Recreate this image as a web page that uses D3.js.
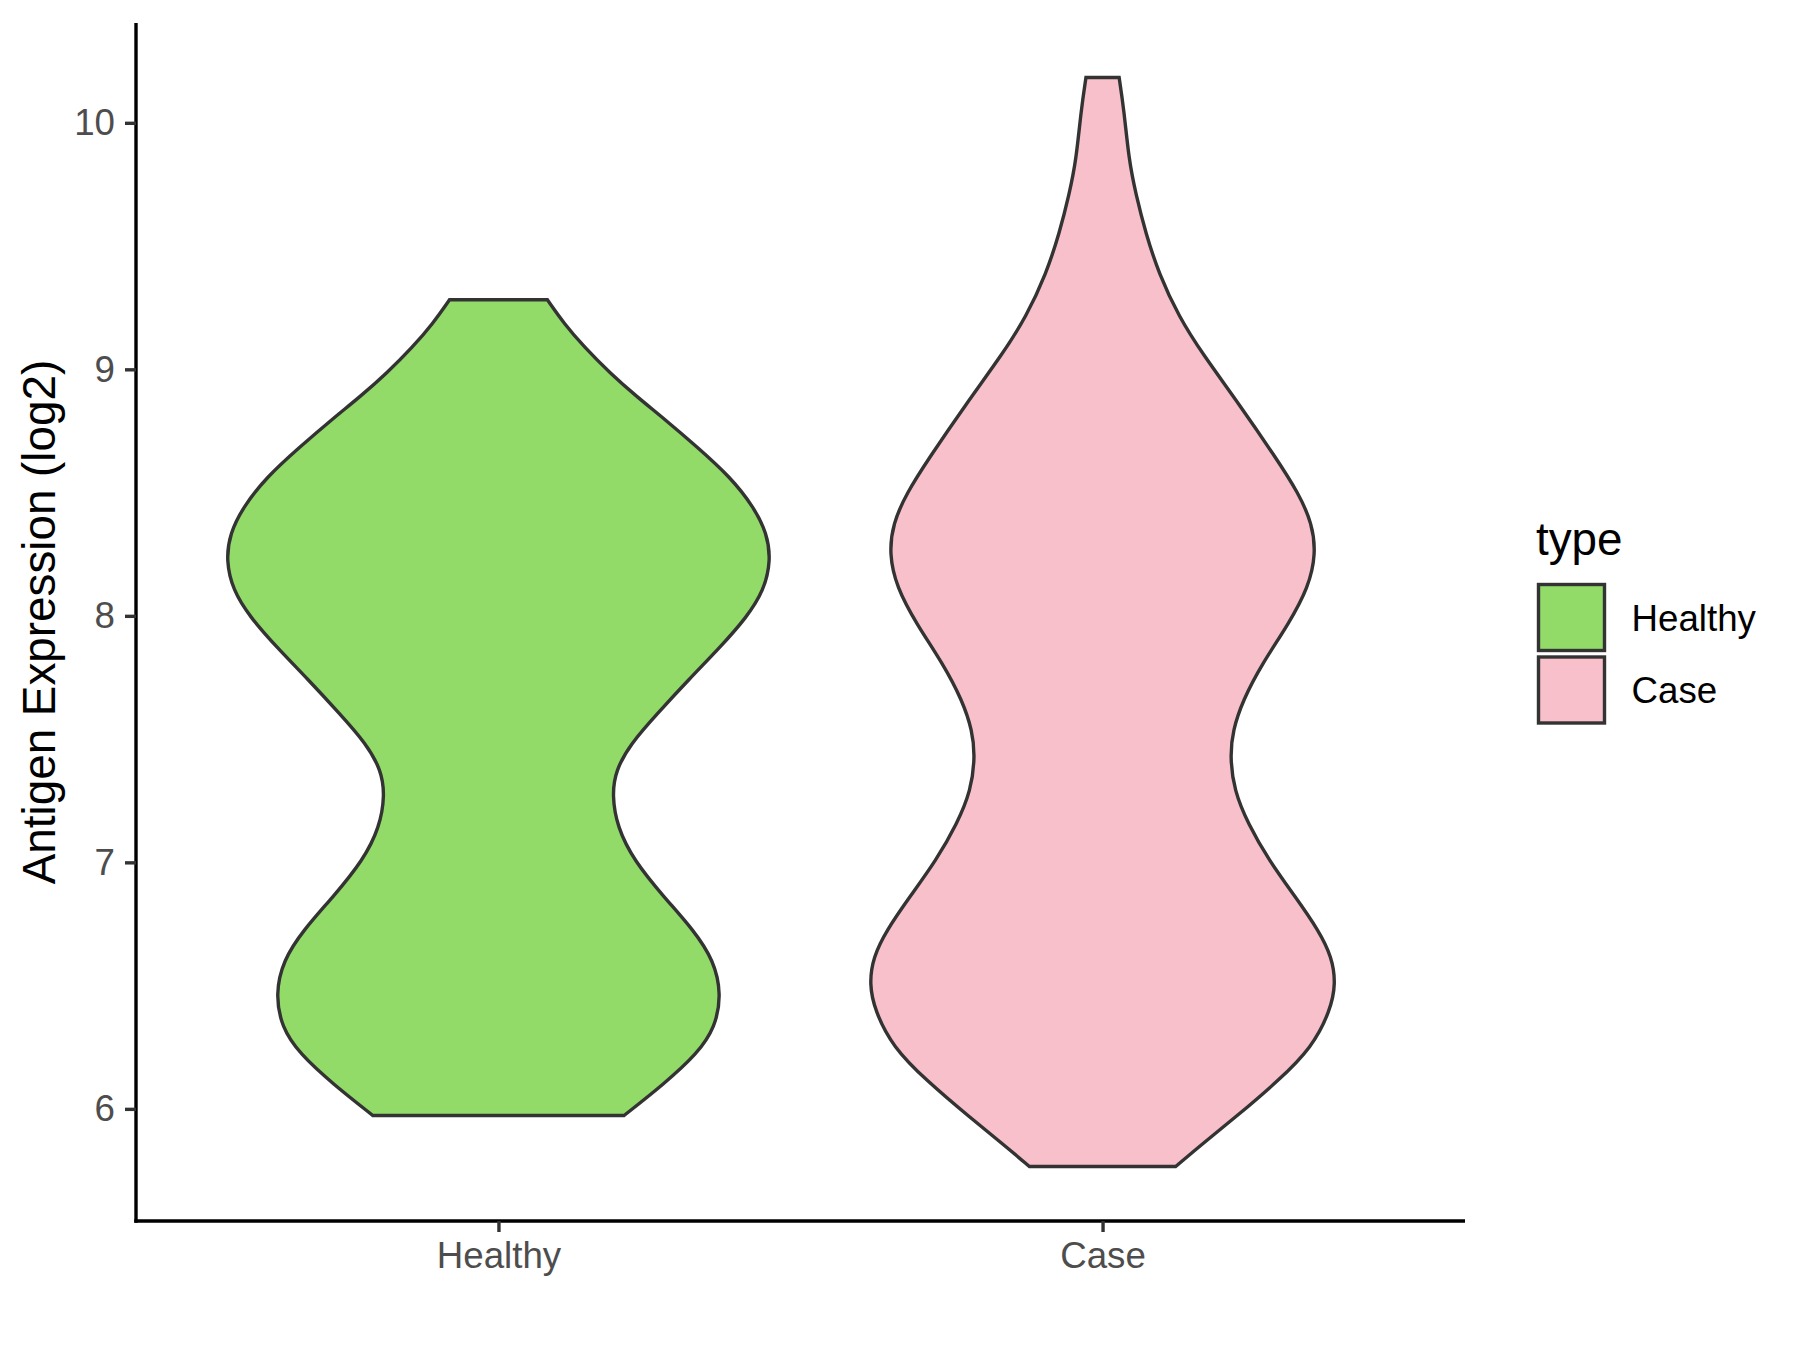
<!DOCTYPE html>
<html>
<head>
<meta charset="utf-8">
<script src="https://cdn.jsdelivr.net/npm/d3@7/dist/d3.min.js"></script>
<style>
  html, body { margin: 0; padding: 0; background: #ffffff; }
  svg { display: block; font-family: "Liberation Sans", Arial, sans-serif; }
</style>
</head>
<body>
<svg id="chart" width="1800" height="1350"></svg>
<script>
// ---- data ----
const categories = ["Healthy", "Case"];
const fillColors = ["#93DB69", "#F8C0CB"];
const yTicks = [6, 7, 8, 9, 10];

// violin outlines: expression value (log2) and relative density (half width)
const healthyValues  = [5.973, 6.101, 6.223, 6.331, 6.467, 6.602, 6.724, 6.859, 7.008, 7.143, 7.272, 7.373, 7.481, 7.603, 7.745, 7.873, 7.995, 8.104, 8.225, 8.334, 8.442, 8.563, 8.685, 8.800, 8.888, 8.983, 9.091, 9.186, 9.282];
const healthyDensity = [0.462, 0.609, 0.731, 0.798, 0.820, 0.792, 0.719, 0.609, 0.498, 0.437, 0.418, 0.431, 0.486, 0.584, 0.703, 0.816, 0.914, 0.977, 1.002, 0.988, 0.939, 0.853, 0.731, 0.609, 0.510, 0.412, 0.315, 0.241, 0.180];

const caseValues  = [5.766, 5.858, 5.966, 6.115, 6.250, 6.399, 6.507, 6.615, 6.724, 6.859, 7.008, 7.157, 7.292, 7.427, 7.535, 7.657, 7.806, 7.968, 8.117, 8.252, 8.374, 8.496, 8.644, 8.861, 9.064, 9.213, 9.389, 9.551, 9.713, 9.849, 10.051, 10.184];
const caseDensity = [0.269, 0.367, 0.489, 0.648, 0.771, 0.838, 0.858, 0.844, 0.795, 0.710, 0.612, 0.535, 0.484, 0.469, 0.479, 0.516, 0.587, 0.685, 0.758, 0.785, 0.771, 0.722, 0.636, 0.501, 0.367, 0.281, 0.207, 0.159, 0.122, 0.097, 0.079, 0.061];

const yTitle = "Antigen Expression (log2)";
const legendTitle = "type";

(function () {
// ---- layout ----
const svg = d3.select("#chart");
const pLeft = 136, pRight = 1465, pTop = 23, pBottom = 1221;

const allVals = healthyValues.concat(caseValues);
const lo = d3.min(allVals), hi = d3.max(allVals), pad = (hi - lo) * 0.05;
const y = d3.scaleLinear().domain([lo - pad, hi + pad]).range([pBottom, pTop]);
const x = d3.scalePoint().domain(categories).range([pLeft, pRight]).padding(0.6);
const w = d3.scaleLinear().domain([0, 1]).range([0, x.step() * 0.45]);

const series = [
  { cat: "Healthy", values: healthyValues, density: healthyDensity },
  { cat: "Case", values: caseValues, density: caseDensity }
];

// ---- violins ----
series.forEach((s, i) => {
  const pts = s.values.map((v, j) => ({ v: v, d: s.density[j] }));
  const cx = x(s.cat);
  const area = d3.area()
    .y(d => y(d.v))
    .x0(d => cx - w(d.d))
    .x1(d => cx + w(d.d))
    .curve(d3.curveBasis);
  svg.append("path")
    .datum(pts)
    .attr("d", area)
    .attr("fill", fillColors[i])
    .attr("stroke", "#333333")
    .attr("stroke-width", 3.4)
    .attr("stroke-linejoin", "miter");
});

// ---- axes ----
const yAxis = d3.axisLeft(y).tickValues(yTicks).tickSize(11).tickSizeOuter(0).tickPadding(10).tickFormat(d3.format("d"));
const gy = svg.append("g").attr("transform", `translate(${pLeft},0)`).call(yAxis);
gy.select(".domain").attr("stroke", "#000").attr("stroke-width", 3.4).attr("d", `M0,${pTop}V${pBottom + 1.7}`);
gy.selectAll(".tick line").attr("stroke", "#333333").attr("stroke-width", 3.4);
gy.selectAll(".tick text").attr("fill", "#4D4D4D").style("font-size", "36.7px")
  .style("font-family", '"Liberation Sans", Arial, sans-serif');

const xAxis = d3.axisBottom(x).tickSize(11).tickSizeOuter(0).tickPadding(10);
const gx = svg.append("g").attr("transform", `translate(0,${pBottom})`).call(xAxis);
gx.select(".domain").attr("stroke", "#000").attr("stroke-width", 3.4).attr("d", `M${pLeft - 1.7},0H${pRight}`);
gx.selectAll(".tick line").attr("stroke", "#333333").attr("stroke-width", 3.4);
gx.selectAll(".tick text").attr("fill", "#4D4D4D").style("font-size", "36.7px")
  .style("font-family", '"Liberation Sans", Arial, sans-serif');

// y title
svg.append("text")
  .attr("transform", `translate(55,${(pTop + pBottom) / 2}) rotate(-90)`)
  .attr("text-anchor", "middle")
  .attr("fill", "#000")
  .style("font-size", "45.8px")
  .text(yTitle);

// ---- legend ----
const lg = svg.append("g");
lg.append("text").attr("x", 1536).attr("y", 555).attr("fill", "#000")
  .style("font-size", "45.8px").text(legendTitle);
categories.forEach((c, i) => {
  const cy = 617.5 + i * 72.5;
  lg.append("rect")
    .attr("x", 1538.5).attr("y", cy - 33).attr("width", 66).attr("height", 66)
    .attr("fill", fillColors[i]).attr("stroke", "#333333").attr("stroke-width", 3.4);
  lg.append("text").attr("x", 1631.5).attr("y", cy + 13).attr("fill", "#000")
    .style("font-size", "36.7px").text(c);
});
})();
</script>
</body>
</html>
